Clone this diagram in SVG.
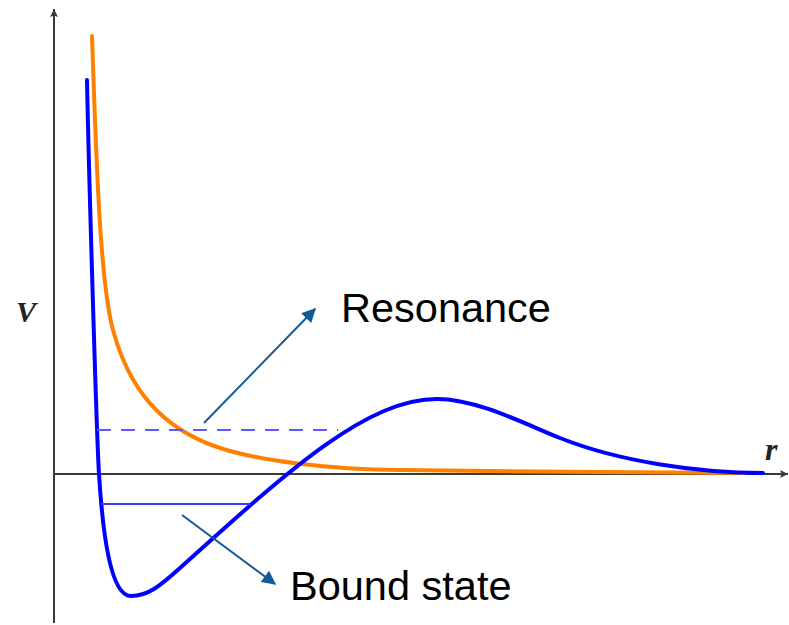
<svg xmlns="http://www.w3.org/2000/svg" width="789" height="625" viewBox="0 0 789 625">
<style>
.axis{stroke:#3a3a3a;stroke-width:2;fill:none}
.blue{stroke:#0000ff;stroke-width:4;fill:none;stroke-linecap:round;stroke-linejoin:round}
.orange{stroke:#ff8000;stroke-width:4;fill:none;stroke-linecap:round;stroke-linejoin:round}
.level{stroke:#3c3cff;stroke-width:2;fill:none}
.dash{stroke:#5a5aff;stroke-width:2.2;fill:none;stroke-dasharray:14 10}
.conn{stroke:#135a96;stroke-width:2;fill:none}
.lbl{font-family:"Liberation Sans",Arial,sans-serif;font-size:41.5px;fill:#000}
.var{font-family:"Liberation Serif","Times New Roman",serif;font-style:italic;font-weight:bold;fill:#222}
</style>
<defs>
<marker id="ah" viewBox="0 0 10 10" refX="10" refY="5" markerWidth="8" markerHeight="8" markerUnits="userSpaceOnUse" orient="auto">
<path d="M0,0 L10,5 L0,10 L2,5 Z" fill="#3a3a3a"/>
</marker>
<marker id="ca" viewBox="0 0 10 10" refX="9" refY="5" markerWidth="16" markerHeight="14" markerUnits="userSpaceOnUse" orient="auto">
<path d="M0,0 L10,5 L0,10 Z" fill="#135a96"/>
</marker>
</defs>
<g id="axes">
<line class="axis" x1="54" y1="623" x2="54" y2="9" marker-end="url(#ah)"/>
<line class="axis" x1="54" y1="474" x2="788" y2="474" marker-end="url(#ah)"/>
<text class="var" x="16" y="322" font-size="30">V</text>
<text class="var" x="765" y="460" font-size="32">r</text>
</g>
<g id="orange-curve">
<path class="orange" d="M92,36 C96,150 99.5,280 113,330 C129.2,390 162,428 217,447 C257,460.8 330,469.5 400,470 C500,471.2 650,473 745,473"/>
</g>
<g id="blue-curve">
<path class="blue" d="M87,80 C88.5,160 96.5,434 99,474 C102.5,530 110,596 131,596 C148,596 160,586 180,568 C290,469 367,399 437,399 C477,399 525,424 560,438 C620,462 700,473 763,473"/>
</g>
<g id="resonance-level">
<line class="dash" x1="97" y1="430" x2="338" y2="430"/>
</g>
<g id="bound-level">
<line class="level" x1="101" y1="504" x2="250" y2="504"/>
</g>
<g id="connectors">
<line class="conn" x1="204" y1="423" x2="315" y2="309" marker-end="url(#ca)"/>
<line class="conn" x1="182" y1="515" x2="275" y2="584" marker-end="url(#ca)"/>
</g>
<g id="resonance-label">
<text class="lbl" x="341" y="322">Resonance</text>
</g>
<g id="bound-label">
<text class="lbl" x="290" y="600">Bound state</text>
</g>
</svg>
